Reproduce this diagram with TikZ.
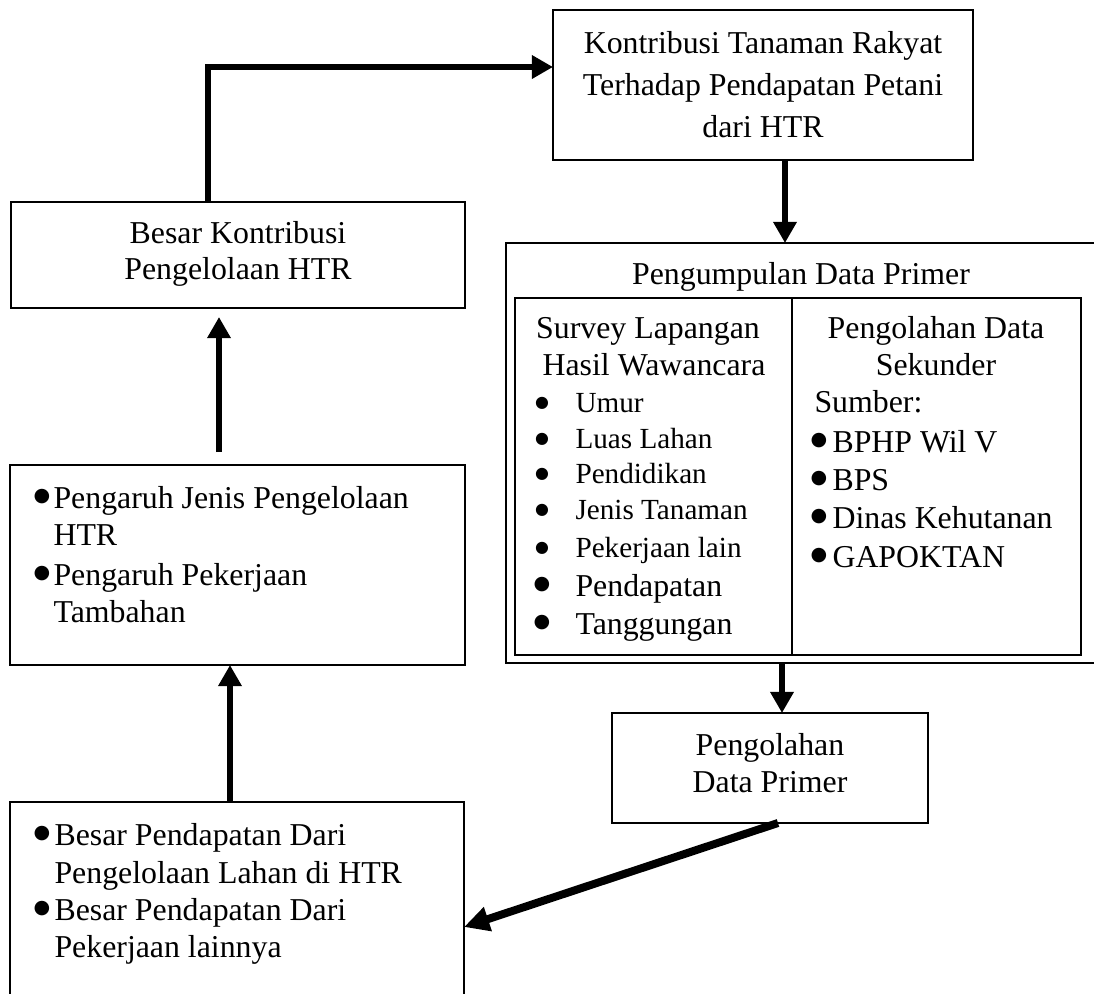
\documentclass[tikz,border=0pt]{standalone}
\usepackage{fontspec}
\setmainfont{Liberation Serif}
\newfontfamily\dejavu{DejaVu Sans}
\usetikzlibrary{arrows.meta}
\newcommand{\bigbul}{\raisebox{2.6pt}{\dejavu\fontsize{7.2}{8}\selectfont ●}}
\newcommand{\midbul}{\raisebox{1.8pt}{\dejavu\fontsize{6}{7}\selectfont ●}}
\tikzset{
  box/.style={draw, line width=1.1pt, inner sep=0pt, outer sep=0pt, anchor=north west},
  thinbox/.style={draw, line width=0.6pt, inner sep=0pt, outer sep=0pt, anchor=north west},
  txt/.style={anchor=base, inner sep=0pt, font=\fontsize{12}{14}\selectfont},
  txtl/.style={anchor=base west, inner sep=0pt, font=\fontsize{12}{14}\selectfont},
  smalll/.style={anchor=base west, inner sep=0pt, font=\fontsize{11}{13}\selectfont},
  bul/.style={anchor=base, inner sep=0pt},
  arr/.style={line width=2.3pt, -{Triangle[length=8pt,width=8.5pt]}},
  diagarr/.style={line width=3pt, -{Triangle[length=9.5pt,width=9pt]}}
}
\begin{document}
\begin{tikzpicture}[x=0.377pt, y=-0.377pt]
\useasboundingbox (0,0) rectangle (1094,994);
\clip (0,0) rectangle (1094,994);

% boxes
\node[box, minimum width=420*0.377pt, minimum height=150*0.377pt] (kontri) at (553,10) {};
\node[box, minimum width=454*0.377pt, minimum height=106*0.377pt] (besar) at (11,202) {};
\node[box, minimum width=455*0.377pt, minimum height=200*0.377pt] (pengaruh) at (10,465) {};
\node[box, minimum width=454*0.377pt, minimum height=230*0.377pt] (bl) at (10,802) {};
\node[box, minimum width=640*0.377pt, minimum height=420*0.377pt] (big) at (506,243) {};
\node[thinbox, minimum width=277*0.377pt, minimum height=357*0.377pt] (innerL) at (515,298) {};
\node[thinbox, minimum width=289*0.377pt, minimum height=357*0.377pt] (innerR) at (792,298) {};
\node[box, minimum width=316*0.377pt, minimum height=110*0.377pt] (olah) at (612,713) {};

% top box text
\node[txt] (k1) at (763,53) {Kontribusi Tanaman Rakyat};
\node[txt] (k2) at (763,95) {Terhadap Pendapatan Petani};
\node[txt] (k3) at (763,137) {dari HTR};

% upper-left box text
\node[txt] (b1) at (238,243) {Besar Kontribusi};
\node[txt] (b2) at (238,279) {Pengelolaan HTR};

% pengaruh box text
\node[bul] (pb1) at (42,508) {\bigbul};
\node[txtl] (p1) at (53,508) {Pengaruh Jenis Pengelolaan};
\node[txtl] (p2) at (53,545) {HTR};
\node[bul] (pb2) at (42,585) {\bigbul};
\node[txtl] (p3) at (53,585) {Pengaruh Pekerjaan};
\node[txtl] (p4) at (53,622) {Tambahan};

% bottom-left box text
\node[bul] (db1) at (42,845) {\bigbul};
\node[txtl] (d1) at (54,845) {Besar Pendapatan Dari};
\node[txtl] (d2) at (54,883) {Pengelolaan Lahan di HTR};
\node[bul] (db2) at (42,920) {\bigbul};
\node[txtl] (d3) at (54,920) {Besar Pendapatan Dari};
\node[txtl] (d4) at (54,957) {Pekerjaan lainnya};

% big box text
\node[txt] (g0) at (801,284) {Pengumpulan Data Primer};
\node[txt] (s1) at (648,338) {Survey Lapangan};
\node[txt] (s2) at (654,375) {Hasil Wawancara};
\node[bul] (sb1) at (542,412) {\midbul};
\node[smalll] (si1) at (575,412) {Umur};
\node[bul] (sb2) at (542,448) {\midbul};
\node[smalll] (si2) at (575,448) {Luas Lahan};
\node[bul] (sb3) at (542,483) {\midbul};
\node[smalll] (si3) at (575,483) {Pendidikan};
\node[bul] (sb4) at (542,519) {\midbul};
\node[smalll] (si4) at (575,519) {Jenis Tanaman};
\node[bul] (sb5) at (542,557) {\midbul};
\node[smalll] (si5) at (575,557) {Pekerjaan lain};
\node[bul] (sb6) at (542,596) {\bigbul};
\node[txtl] (si6) at (575,596) {Pendapatan};
\node[bul] (sb7) at (542,634) {\bigbul};
\node[txtl] (si7) at (575,634) {Tanggungan};

\node[txt] (r1) at (936,338) {Pengolahan Data};
\node[txt] (r2) at (936,375) {Sekunder};
\node[txtl] (r3) at (814,412) {Sumber:};
\node[bul] (rb1) at (819,452) {\bigbul};
\node[txtl] (ri1) at (832,452) {BPHP Wil V};
\node[bul] (rb2) at (819,490) {\bigbul};
\node[txtl] (ri2) at (832,490) {BPS};
\node[bul] (rb3) at (819,528) {\bigbul};
\node[txtl] (ri3) at (832,528) {Dinas Kehutanan};
\node[bul] (rb4) at (819,567) {\bigbul};
\node[txtl] (ri4) at (832,567) {GAPOKTAN};

% pengolahan box text
\node[txt] (o1) at (770,755) {Pengolahan};
\node[txt] (o2) at (770,792) {Data Primer};

% connectors
\coordinate (c1) at (208,67);
\draw[arr] (besar.north -| c1) |- (kontri.west |- c1);
\coordinate (c2) at (785,0);
\draw[arr] (kontri.south -| c2) -- (big.north -| c2);
\coordinate (c3) at (782,0);
\draw[arr] (big.south -| c3) -- (olah.north -| c3);
\coordinate (c4) at (778,0);
\coordinate (c5) at (0,927);
\draw[diagarr] (olah.south -| c4) -- (bl.east |- c5);
\coordinate (c6) at (230,0);
\draw[arr] (bl.north -| c6) -- (pengaruh.south -| c6);
\coordinate (c7) at (219,0);
\draw[arr, shorten <=13*0.377pt, shorten >=9*0.377pt] (pengaruh.north -| c7) -- (besar.south -| c7);
\end{tikzpicture}
\end{document}
